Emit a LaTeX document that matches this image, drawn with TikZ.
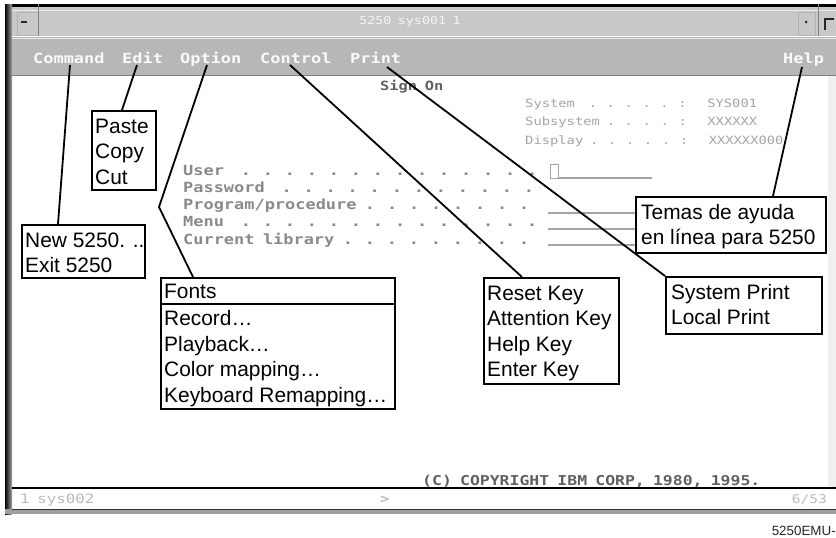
\documentclass[tikz,border=0pt]{standalone}
\usepackage{fontspec}
\setmainfont{Liberation Sans}
\newfontfamily\scrfont[FakeStretch=1.21,WordSpace={0.8264,0,0}]{DejaVu Sans Mono}
\usetikzlibrary{calc}
\definecolor{titlegray}{HTML}{C8C8C8}
\definecolor{menugray}{HTML}{B7B7B7}
\definecolor{framedark}{HTML}{2A2A2A}
\definecolor{scrtext}{HTML}{8A8A8A}
\definecolor{scrlight}{HTML}{A4A4A4}
\definecolor{scrdark}{HTML}{606060}
\definecolor{statustext}{HTML}{BBBBBB}
\begin{document}
\begin{tikzpicture}[x=1pt,y=-1pt,
  callout/.style={draw=black, line width=2.2pt, fill=white, inner sep=0pt, anchor=north west},
  calltext/.style={anchor=north west, inner sep=0pt, align=left, font=\fontsize{20.9}{25.4}\selectfont},
  leader/.style={draw=black, line width=1.8pt},
  menutext/.style={text=white!96!gray, font=\scrfont\bfseries\fontsize{14}{16}\selectfont, inner sep=0pt, anchor=base west},
  scrblock/.style={anchor=north west, inner sep=0pt, align=left},
  fieldline/.style={draw=scrlight, line width=1.6pt}
]
\useasboundingbox (0,0) rectangle (836,538);
% ---------- window chrome ----------
\fill[titlegray] (12,7) rectangle (836,36);
\draw[white!85!gray, line width=1pt] (12,10) -- (836,10);
\fill[menugray] (12,37) rectangle (836,75);
\draw[white!80!gray, line width=1pt] (12,38) -- (836,38);
\draw[gray, line width=1pt] (12,75.5) -- (836,75.5);
\fill[black] (5,4) rectangle (836,7);
\shade[left color=black, right color=gray!70] (5,4) rectangle (12,514);
\draw[gray!60, line width=0.8pt] (17,12) rectangle (38,35);
\draw[gray, line width=1pt] (38,4) -- (38,36);
\draw[gray!30!black, line width=1.2pt] (21,22) -- (27,22);
\draw[gray!60, line width=0.8pt] (798,12) rectangle (815,35);
\fill[gray!40!black] (806,22) circle (1.5);
\draw[gray, line width=1pt] (818,4) -- (818,36);
\draw[gray!30!black, line width=1.6pt] (825,30) -- (825,19) -- (834,19);
\node[text=white!92!gray, font=\scrfont\fontsize{11}{13}\selectfont, inner sep=0pt] (wintitle) at (410,22) {5250 sys001 1};
% menu bar items
\node[menutext] (mcommand) at (33,63) {Command};
\node[menutext] (medit) at (122,63) {Edit};
\node[menutext] (moption) at (180,63) {Option};
\node[menutext] (mcontrol) at (260,63) {Control};
\node[menutext] (mprint) at (350,63) {Print};
\node[menutext] (mhelp) at (783,63) {Help};
% right stripe and status bar
\fill[gray!12] (828,76) rectangle (836,487);
\draw[black, line width=2pt] (12,488) -- (836,488);
\fill[gray!75] (5,509) rectangle (836,514);
\draw[gray!40!black, line width=0.8pt] (12,509.5) -- (836,509.5);
\node[anchor=base west, inner sep=0pt, text=statustext, font=\scrfont\fontsize{13}{15}\selectfont] (stat1) at (20,503) {1 sys002};
\node[anchor=base west, inner sep=0pt, text=statustext, font=\scrfont\bfseries\fontsize{13}{15}\selectfont] (stat2) at (380,503) {>};
\node[anchor=base east, inner sep=0pt, text=statustext, font=\scrfont\fontsize{12}{15}\selectfont] (stat3) at (827,503) {6/53};
\node[anchor=base east, inner sep=0pt, text=black!85, font=\fontsize{13.4}{15}\selectfont] (figid) at (836,535) {5250EMU-};
% ---------- screen contents ----------
\node[anchor=base west, inner sep=0pt, text=scrdark, font=\scrfont\bfseries\fontsize{12.7}{14}\selectfont] (signon) at (380,90) {Sign~On};
\node[scrblock, text=scrlight, font=\scrfont\fontsize{11.4}{18.5}\selectfont] (sysinfo) at (525,97)
  {\rule{0pt}{10pt}System~~. . . . . :~~~SYS001\\
   Subsystem . . . . :~~~XXXXXX\\
   Display . . . . . :~~~XXXXXX000};
\node[scrblock, text=scrtext, font=\scrfont\bfseries\fontsize{14}{17.25}\selectfont] (signfields) at (183,163)
  {\rule{0pt}{12pt}User~~. . . . . . . . . . . . . .\\
   Password~~. . . . . . . . . . . .\\
   Program/procedure . . . . . . . .\\
   Menu~~. . . . . . . . . . . . . .\\
   Current library . . . . . . . . .};
\draw[draw=scrlight, line width=1pt] (550,164) rectangle (558,178);
\draw[fieldline, line width=1.2pt] (558,178) -- (652,178);
\draw[fieldline] (548,213) -- (640,213);
\draw[fieldline] (548,229) -- (640,229);
\draw[fieldline] (548,245) -- (640,245);
\node[anchor=base west, inner sep=0pt, text=scrdark, font=\scrfont\bfseries\fontsize{13.6}{15}\selectfont] (copyright) at (422,485) {(C) COPYRIGHT IBM CORP, 1980, 1995.};
% ---------- callout boxes ----------
\node[callout, minimum width=123pt, minimum height=53pt] (newbox) at (21,224) {};
\node[callout, minimum width=64pt, minimum height=79pt] (pastebox) at (91,110) {};
\node[callout, minimum width=234pt, minimum height=131pt] (fontsbox) at (160,277) {};
\node[callout, minimum width=135pt, minimum height=106pt] (resetbox) at (483,277) {};
\node[callout, minimum width=156pt, minimum height=57pt] (printbox) at (665,276) {};
\node[callout, minimum width=190pt, minimum height=56pt] (helpbox) at (635,196) {};
\draw[black, line width=1.6pt] ($(fontsbox.north west)+(0,27)$) -- ($(fontsbox.north east)+(0,27)$);
\node[calltext] (newtext) at ($(newbox.north west)+(4,6)$) {\rule{0pt}{17pt}New 5250. ..\\Exit 5250};
\node[calltext] (pastetext) at ($(pastebox.north west)+(4,6)$) {\rule{0pt}{17pt}Paste\\Copy\\Cut};
\node[calltext] (fontstext) at ($(fontsbox.north west)+(4,4.5)$) {\rule{0pt}{17pt}Fonts};
\node[calltext, font=\fontsize{20.9}{25.6}\selectfont] (optiontext) at ($(fontsbox.north west)+(4,31.5)$) {\rule{0pt}{17pt}Record…\\Playback…\\Color mapping…\\Keyboard Remapping…};
\node[calltext] (resettext) at ($(resetbox.north west)+(4,6)$) {\rule{0pt}{17pt}Reset Key\\Attention Key\\Help Key\\Enter Key};
\node[calltext] (printtext) at ($(printbox.north west)+(6,6)$) {\rule{0pt}{17pt}System Print\\Local Print};
\node[calltext] (helptext) at ($(helpbox.north west)+(6,6)$) {\rule{0pt}{17pt}Temas de ayuda\\en línea para 5250};
% ---------- leaders ----------
\coordinate (cmdpt) at (70,65);
\coordinate (editpt) at (137,65);
\coordinate (optpt) at (207,65);
\coordinate (optbend) at (159,207);
\coordinate (ctrlpt) at (290,65);
\coordinate (printpt) at (387,67);
\coordinate (helppt) at (802,67);
\draw[leader] (cmdpt) -- ($(newbox.north west)+(37,0)$);
\draw[leader] (editpt) -- ($(pastebox.north west)+(31,0)$);
\draw[leader, line join=miter] (optpt) -- (optbend) -- ($(fontsbox.north west)+(33,0)$);
\draw[leader] (ctrlpt) -- ($(resetbox.north west)+(39,0)$);
\draw[leader] (printpt) -- (printbox.north west);
\draw[leader] (helppt) -- ($(helpbox.north west)+(138,0)$);
\end{tikzpicture}
\end{document}
